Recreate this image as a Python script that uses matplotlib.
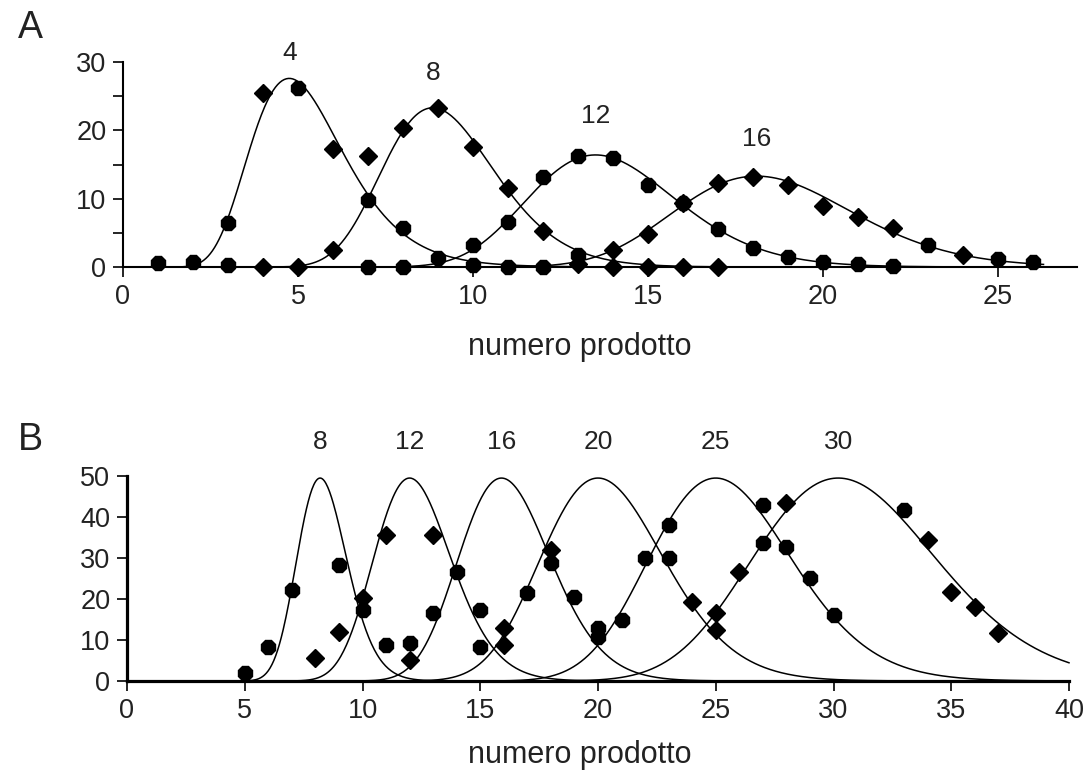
import numpy as np
import matplotlib
matplotlib.use('Agg')
import matplotlib.pyplot as plt

plt.rcParams['font.family'] = ['Liberation Sans', 'DejaVu Sans']

# panel A: fitted product curves (peak position, peak height, log-width)
a_products = ['4', '8', '12', '16']
a_centers = [4.75, 8.85, 13.5, 18.1]
a_heights = [27.6, 23.3, 16.4, 13.3]
a_widths = [0.28, 0.18, 0.156, 0.14]

# panel A measured points
a_round_x = [1, 2, 3, 3, 5, 7, 7, 8, 8, 9, 10, 10, 11, 11, 12, 12, 13, 13, 14,
             15, 16, 17, 18, 19, 20, 21, 22, 23, 25, 26]
a_round_y = [0.6, 0.8, 6.4, 0.3, 26.2, 9.8, 0.0, 5.7, 0.0, 1.3, 3.2, 0.3, 6.6,
             0.0, 13.1, 0.0, 16.3, 1.8, 16.0, 12.0, 9.3, 5.5, 2.8, 1.5, 0.8,
             0.4, 0.2, 3.2, 1.2, 0.7]
a_diamond_x = [4, 4, 5, 6, 6, 7, 8, 9, 10, 11, 12, 13, 14, 14, 15, 15, 16, 16,
               17, 17, 18, 19, 20, 21, 22, 24]
a_diamond_y = [25.4, 0.0, 0.0, 17.2, 2.5, 16.3, 20.3, 23.2, 17.5, 11.5, 5.2,
               0.5, 2.5, 0.0, 4.9, 0.0, 9.3, 0.0, 12.3, 0.0, 13.2, 12.0, 9.0,
               7.3, 5.7, 1.8]

# panel B: fitted product curves
b_products = ['8', '12', '16', '20', '25', '30']
b_centers = [8.2, 12.0, 15.9, 20.0, 25.0, 30.2]
b_heights = [49.5, 49.5, 49.5, 49.5, 49.5, 49.5]
b_widths = [0.128, 0.136, 0.122, 0.13, 0.12, 0.128]

# panel B measured points
b_round_x = [5, 6, 7, 9, 10, 11, 12, 13, 14, 15, 15, 17, 18, 19, 20, 20, 21,
             22, 23, 23, 27, 27, 28, 29, 30, 33]
b_round_y = [1.9, 8.4, 22.1, 28.3, 17.3, 8.8, 9.2, 16.6, 26.6, 17.3, 8.3, 21.5,
             28.8, 20.5, 12.9, 10.7, 14.9, 30.0, 38.0, 30.0, 43.0, 33.6, 32.7,
             25.1, 16.1, 41.7]
b_diamond_x = [8, 9, 10, 11, 12, 13, 16, 16, 18, 24, 25, 25, 26, 28, 34, 35,
               36, 37]
b_diamond_y = [5.5, 12.0, 20.2, 35.5, 5.2, 35.6, 12.9, 8.8, 32.0, 19.3, 16.5,
               12.5, 26.6, 43.4, 34.4, 21.7, 18.0, 11.7]

W, H = 1084, 770
TEXT = '#222222'


def peak_curve(x, center, height, width):
    return height * np.exp(-np.log(x / center) ** 2 / (2 * width ** 2))


def style_axes(ax, spine_w):
    for side in ('top', 'right'):
        ax.spines[side].set_visible(False)
    for side in ('left', 'bottom'):
        ax.spines[side].set_linewidth(spine_w)
    ax.tick_params(which='both', direction='out', length=7, width=1.2,
                   labelsize=19.5, pad=5, colors='black', labelcolor=TEXT)


def draw_panel(ax, xs, centers, heights, widths, names, lifts,
               rx, ry, dx, dy):
    for c, h, w, name, lift in zip(centers, heights, widths, names, lifts):
        ax.plot(xs, peak_curve(xs, c, h, w), color='black', lw=1.1,
                clip_on=False, zorder=2)
        ax.annotate(name, (c, h), xytext=(0, lift), textcoords='offset points',
                    ha='center', va='center', fontsize=19, color=TEXT)
    ax.plot(rx, ry, ls='none', marker='8', ms=11, mfc='black', mec='black',
            mew=1, clip_on=False, zorder=3)
    ax.plot(dx, dy, ls='none', marker='D', ms=8.8, mfc='black', mec='black',
            mew=1, clip_on=False, zorder=3)


fig = plt.figure(figsize=(W / 100, H / 100), dpi=100)

axA = fig.add_axes([123 / W, 1 - 267 / H, (1077 - 123) / W, (267 - 62) / H])
xa = np.linspace(1.5, 26.3, 800)
draw_panel(axA, xa, a_centers, a_heights, a_widths, a_products,
           [18, 25, 28, 27], a_round_x, a_round_y, a_diamond_x, a_diamond_y)
axA.set_xlim(0, (1077 - 123) / 35.0)
axA.set_ylim(0, 30)
axA.set_xticks([0, 5, 10, 15, 20, 25])
axA.set_yticks([0, 10, 20, 30])
axA.set_yticks([5, 15, 25], minor=True)
style_axes(axA, 1.5)

axB = fig.add_axes([127 / W, 1 - 681 / H, (1069 - 127) / W, (681 - 476) / H])
xb = np.linspace(0.5, 40, 1000)
draw_panel(axB, xb, b_centers, b_heights, b_widths, b_products,
           [26] * len(b_products), b_round_x, b_round_y, b_diamond_x, b_diamond_y)
axB.set_xlim(0, 40)
axB.set_ylim(0, 50)
axB.set_xticks(range(0, 41, 5))
axB.set_yticks(range(0, 51, 10))
style_axes(axB, 2.3)

fig.text(580 / W, 1 - 355 / H, 'numero prodotto', ha='center', va='baseline',
         fontsize=22, color=TEXT)
fig.text(580 / W, 1 - 763 / H, 'numero prodotto', ha='center', va='baseline',
         fontsize=22, color=TEXT)
fig.text(30 / W, 1 - 28 / H, 'A', ha='center', va='center', fontsize=27,
         color=TEXT)
fig.text(30 / W, 1 - 440 / H, 'B', ha='center', va='center', fontsize=27,
         color=TEXT)

fig.savefig('out.png', dpi=100)
